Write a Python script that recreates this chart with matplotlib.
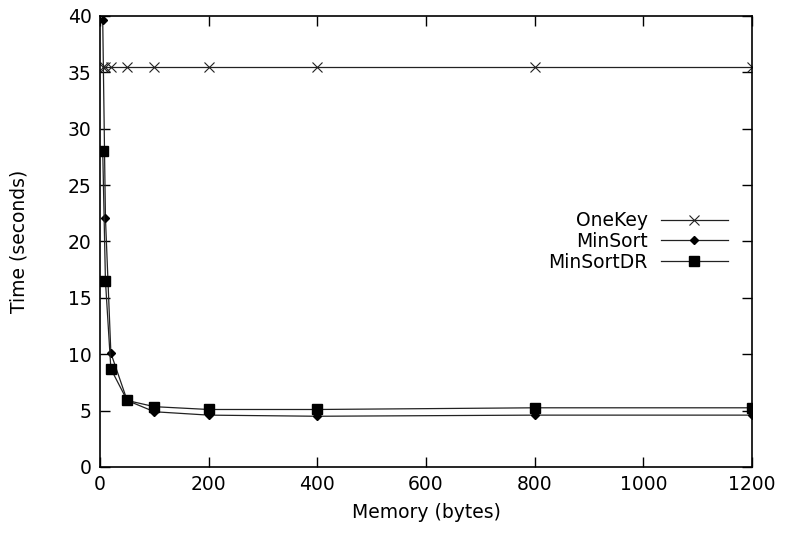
import matplotlib
matplotlib.use("Agg")
import matplotlib.pyplot as plt

# memory sizes (bytes) and running times (seconds)
mem = [5, 10, 20, 50, 100, 200, 400, 800, 1200]
onekey = [35.5, 35.5, 35.5, 35.5, 35.5, 35.5, 35.5, 35.5, 35.5]
minsort = [39.6, 22.1, 10.1, 5.9, 4.9, 4.6, 4.5, 4.6, 4.6]
minsortdr = [28.0, 16.5, 8.7, 5.9, 5.35, 5.1, 5.1, 5.25, 5.25]

plt.rcParams["font.family"] = "DejaVu Sans"
plt.rcParams["font.size"] = 13.5

fig = plt.figure(figsize=(7.85, 5.4), dpi=100)
ax = fig.add_axes([0.1274, 0.1352, 0.8306, 0.8352])

line_kw = dict(color="#222222", linewidth=0.9)
ax.plot(mem, onekey, marker="x", markersize=7, markeredgewidth=0.8,
        label="OneKey", **line_kw)
ax.plot(mem, minsort, marker="D", markersize=4.5, markerfacecolor="black",
        markeredgecolor="black", label="MinSort", **line_kw)
ax.plot(mem, minsortdr, marker="s", markersize=7, markerfacecolor="black",
        markeredgecolor="black", label="MinSortDR", **line_kw)

ax.set_xlim(0, 1200)
ax.set_ylim(0, 40)
ax.set_xticks(range(0, 1201, 200))
ax.set_yticks(range(0, 41, 5))
ax.tick_params(direction="in", length=7, width=1, top=True, right=True,
               labelsize=13.5, pad=6)
for s in ax.spines.values():
    s.set_linewidth(1.2)

ax.set_xlabel("Memory (bytes)", fontsize=13.5, labelpad=6)
ax.set_ylabel("Time (seconds)", fontsize=13.5, labelpad=28)

ax.legend(loc="center right", bbox_to_anchor=(0.975, 0.5), frameon=False,
          markerfirst=False, handlelength=3.6, handletextpad=0.7,
          labelspacing=0.1, fontsize=13.5, borderaxespad=0)

fig.savefig("out.png", dpi=100)
